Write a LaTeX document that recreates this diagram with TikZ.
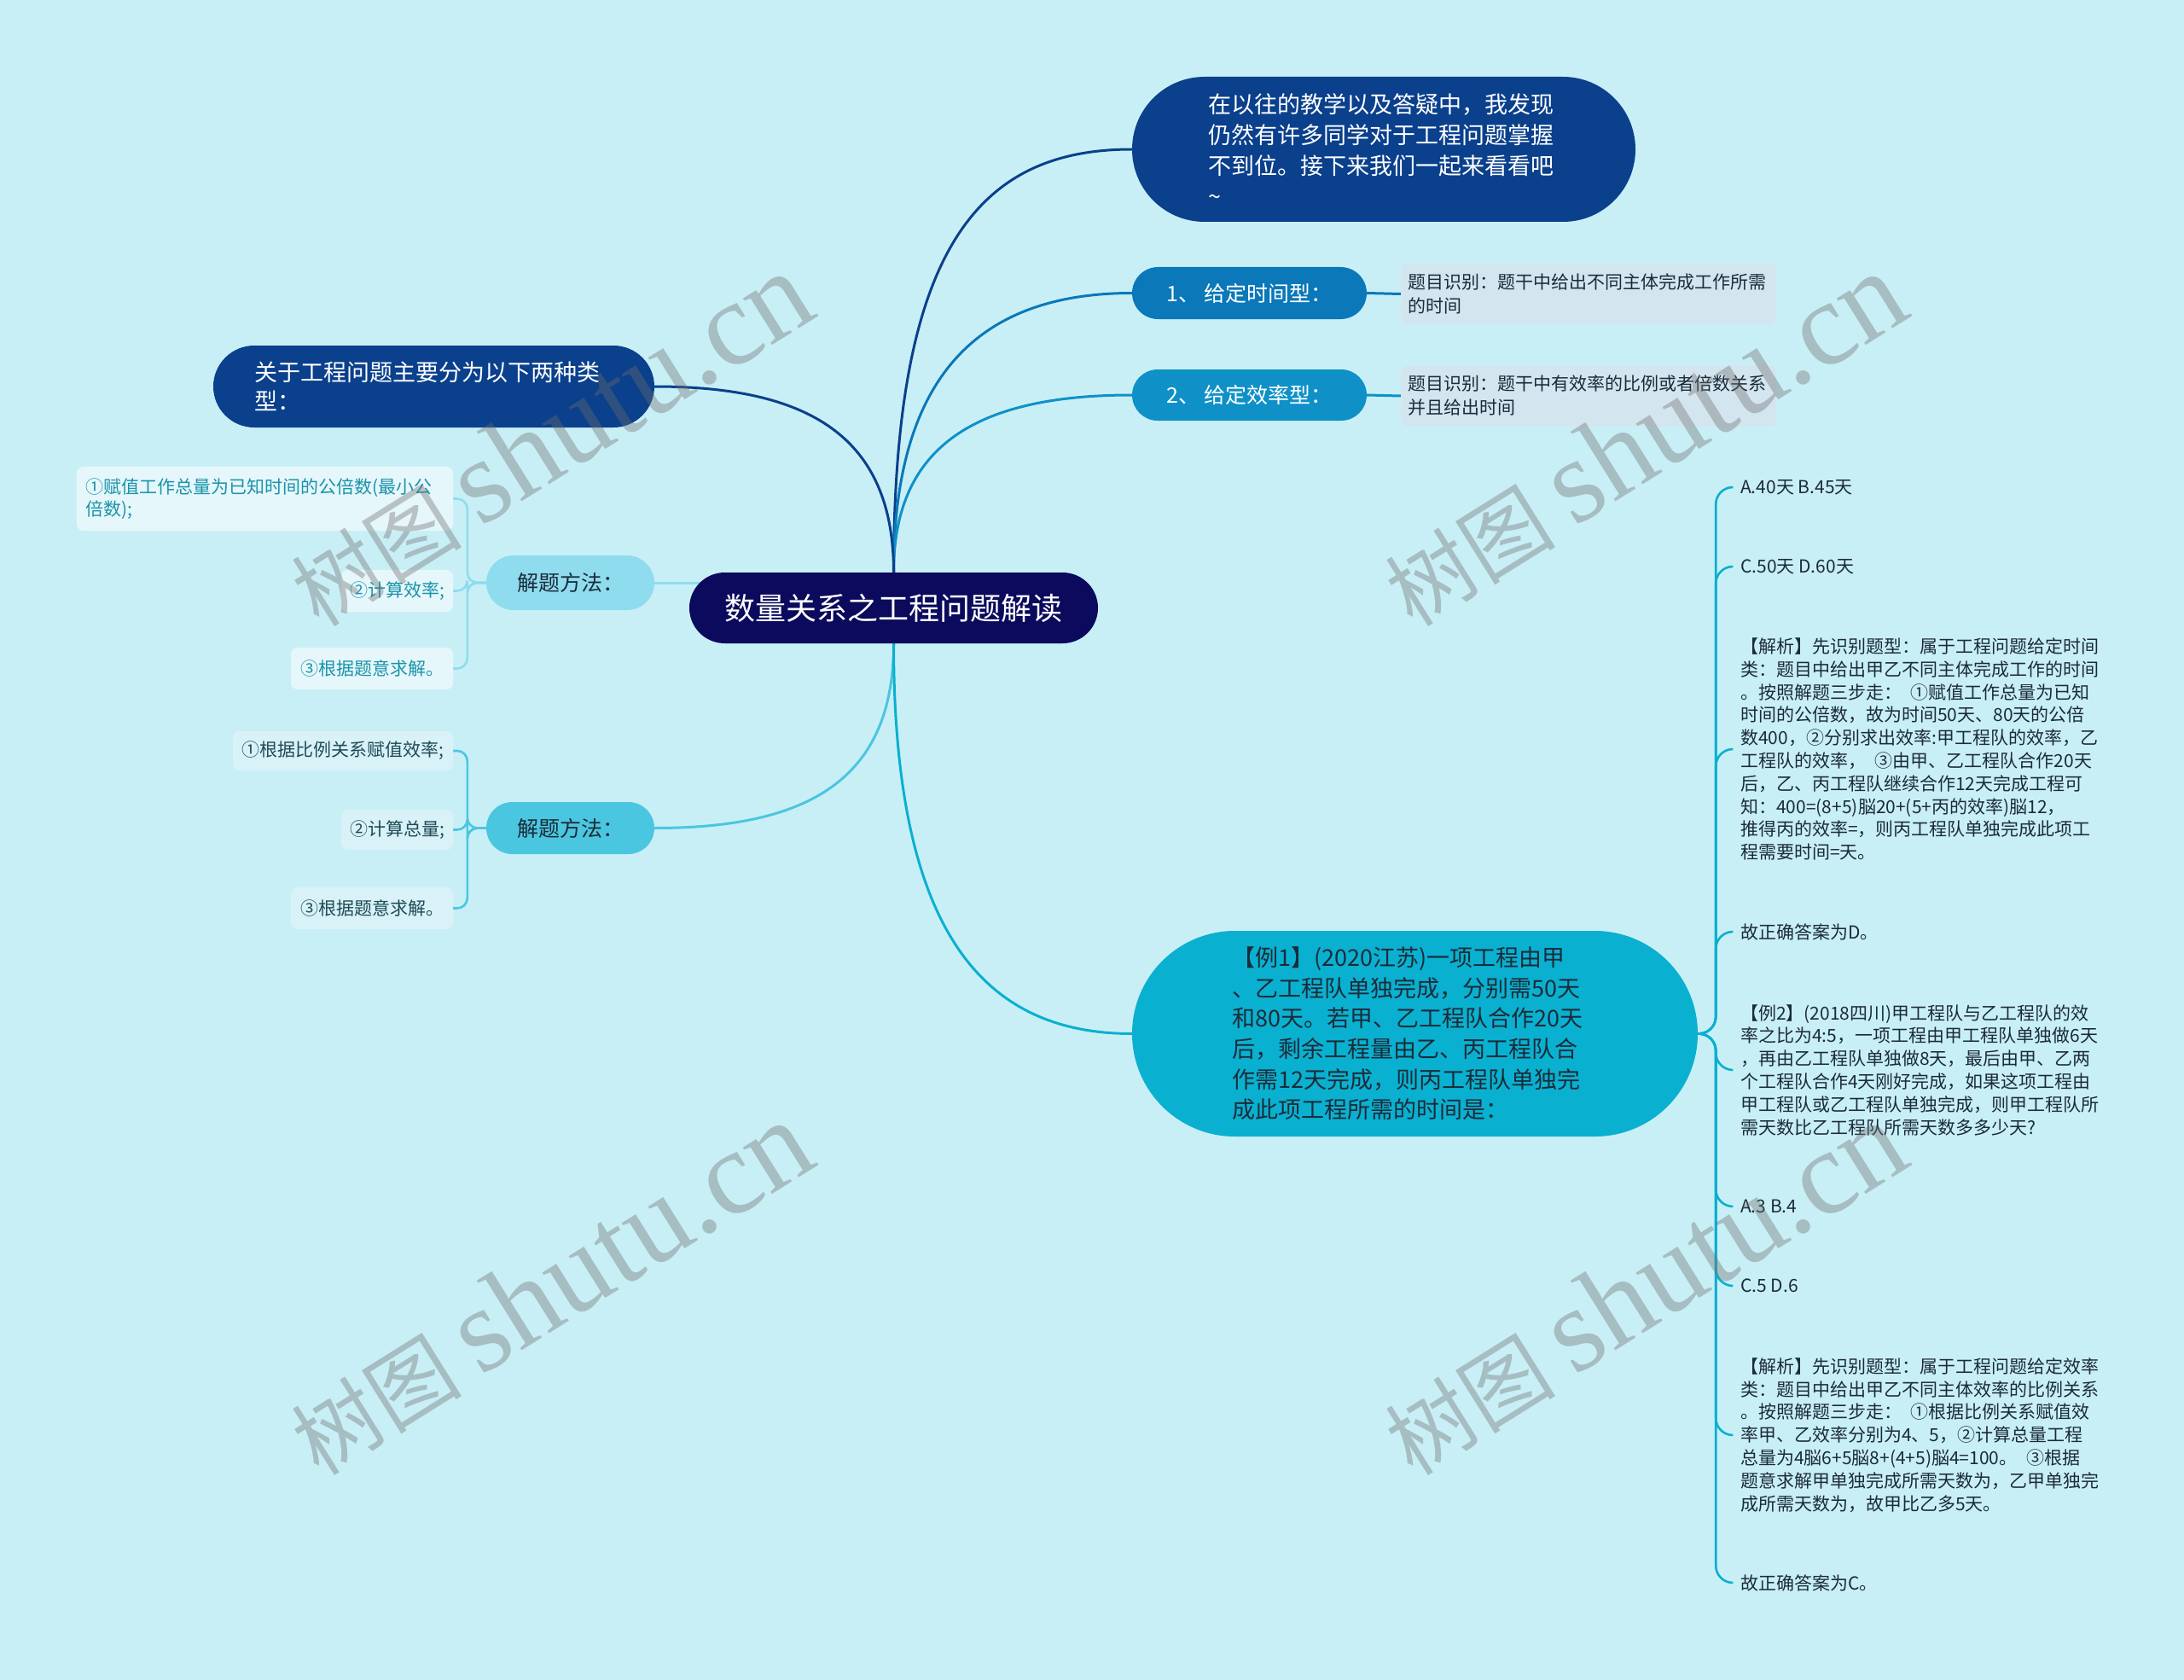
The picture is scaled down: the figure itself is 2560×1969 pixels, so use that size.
\documentclass[tikz,border=0pt]{standalone}
\usepackage{fontspec}
\setmainfont{Noto Sans CJK SC}
\newfontfamily\wmcjk{Noto Sans CJK SC}
\newfontfamily\wmlat{Liberation Serif}
\usetikzlibrary{backgrounds}
\definecolor{bgc}{HTML}{C9EFF6}
\definecolor{cNavy}{HTML}{0B0A5C}
\definecolor{cDark}{HTML}{0A408C}
\definecolor{cBlueA}{HTML}{0A78B9}
\definecolor{cBlueB}{HTML}{0F91C8}
\definecolor{cCyan}{HTML}{0AB0D0}
\definecolor{cLight}{HTML}{8EDCEE}
\definecolor{cMid}{HTML}{4BC6E0}
\definecolor{cGrayBox}{HTML}{D3E6EF}
\definecolor{cBoxA}{HTML}{E6F7FB}
\definecolor{cBoxB}{HTML}{D8F2F8}
\definecolor{cTxt}{HTML}{1B2B38}
\definecolor{cTeal}{HTML}{1A93AA}
\definecolor{cTealD}{HTML}{1F4A56}
\definecolor{cWm}{HTML}{6E6E6E}
\begin{document}
\begin{tikzpicture}[x=1pt,y=-1pt,
  pill/.style={shape=rectangle, inner sep=0pt, align=center},
  conn/.style={line width=3pt},
  brk/.style={line width=2.6pt, rounded corners=12pt},
  rbrk/.style={line width=2.6pt, rounded corners=20pt, cCyan},
  lbox/.style={shape=rectangle, inner sep=0pt, rounded corners=8pt},
  rcol/.style={anchor=west, inner xsep=10pt, inner ysep=0pt, align=left, text=cTxt, font=\fontsize{21}{26.8}\selectfont},
  wm/.style={rotate=32, opacity=0.38, text=cWm, inner sep=0pt}]
\useasboundingbox (0,0) rectangle (2560,1969);

% central node
\node[pill, fill=cNavy, minimum width=479pt, minimum height=83pt, rounded corners=41.5pt, text=white, font=\fontsize{36}{44}\selectfont] (c) at (1047.5,712.5) {数量关系之工程问题解读};

% right upper nodes
\node[pill, fill=cDark, minimum width=590pt, minimum height=170pt, rounded corners=85pt, text=white, font=\fontsize{27}{36}\selectfont, text width=412pt, align=left] (top) at (1622,175) {在以往的教学以及答疑中，我发现\\仍然有许多同学对于工程问题掌握\\不到位。接下来我们一起来看看吧\\\textasciitilde};

\node[pill, fill=cBlueA, minimum width=275pt, minimum height=61pt, rounded corners=30.5pt, text=white, font=\fontsize{25}{30}\selectfont] (t1) at (1464.5,343.5) {1、\ 给定时间型：};
\node[lbox, fill=cGrayBox, minimum width=440pt, minimum height=71pt, text=cTxt, font=\fontsize{21}{28}\selectfont, text width=424pt, align=left] (t1d) at (1862,344.5) {题目识别：题干中给出不同主体完成工作所需\\的时间};

\node[pill, fill=cBlueB, minimum width=275pt, minimum height=60pt, rounded corners=30pt, text=white, font=\fontsize{25}{30}\selectfont] (t2) at (1464.5,463) {2、\ 给定效率型：};
\node[lbox, fill=cGrayBox, minimum width=440pt, minimum height=72pt, text=cTxt, font=\fontsize{21}{28}\selectfont, text width=424pt, align=left] (t2d) at (1862,464) {题目识别：题干中有效率的比例或者倍数关系\\并且给出时间};

% left upper node
\node[pill, fill=cDark, minimum width=517pt, minimum height=96pt, rounded corners=48pt, text=white, font=\fontsize{27}{34}\selectfont, text width=420pt, align=left] (guan) at (508.5,453) {关于工程问题主要分为以下两种类\\型：};

% method 1
\node[pill, fill=cLight, minimum width=197pt, minimum height=64pt, rounded corners=32pt, text=cTxt, font=\fontsize{25}{30}\selectfont] (m1) at (668.5,683) {解题方法：};
\node[lbox, fill=cBoxA, minimum width=441pt, minimum height=75pt, text=cTeal, font=\fontsize{21}{26}\selectfont, text width=421pt, align=left] (a1) at (310.5,584.5) {①赋值工作总量为已知时间的公倍数(最小公\\倍数);};
\node[lbox, fill=cBoxA, minimum width=131pt, minimum height=49pt, text=cTeal, font=\fontsize{21}{26}\selectfont] (a2) at (465.5,692.5) {②计算效率;};
\node[lbox, fill=cBoxA, minimum width=190pt, minimum height=49pt, text=cTeal, font=\fontsize{21}{26}\selectfont] (a3) at (436,783.5) {③根据题意求解。};

% method 2
\node[pill, fill=cMid, minimum width=197pt, minimum height=61pt, rounded corners=30.5pt, text=cTxt, font=\fontsize{25}{30}\selectfont] (m2) at (668.5,970.5) {解题方法：};
\node[lbox, fill=cBoxB, minimum width=258pt, minimum height=46pt, text=cTealD, font=\fontsize{21}{26}\selectfont] (b1) at (402,880) {①根据比例关系赋值效率;};
\node[lbox, fill=cBoxB, minimum width=131pt, minimum height=47pt, text=cTealD, font=\fontsize{21}{26}\selectfont] (b2) at (465.5,972.5) {②计算总量;};
\node[lbox, fill=cBoxB, minimum width=190pt, minimum height=49pt, text=cTealD, font=\fontsize{21}{26}\selectfont] (b3) at (436,1064.5) {③根据题意求解。};

% example 1
\node[pill, fill=cCyan, minimum width=663pt, minimum height=241pt, rounded corners=120.5pt, text=cTxt, font=\fontsize{27}{35.6}\selectfont, text width=428pt, align=left] (ex1) at (1658.5,1211.5) {【例1】(2020江苏)一项工程由甲\\、乙工程队单独完成，分别需50天\\和80天。若甲、乙工程队合作20天\\后，剩余工程量由乙、丙工程队合\\作需12天完成，则丙工程队单独完\\成此项工程所需的时间是：};

% right column
\node[rcol] (r1) at (2030,571) {A.40天 B.45天};
\node[rcol] (r2) at (2030,664) {C.50天 D.60天};
\node[rcol] (r3) at (2030,878) {【解析】先识别题型：属于工程问题给定时间\\类：题目中给出甲乙不同主体完成工作的时间\\。按照解题三步走：\hspace{0.5em}①赋值工作总量为已知\\时间的公倍数，故为时间50天、80天的公倍\\数400，②分别求出效率:甲工程队的效率，乙\\工程队的效率，\hspace{0.5em}③由甲、乙工程队合作20天\\后，乙、丙工程队继续合作12天完成工程可\\知：400=(8+5)脳20+(5+丙的效率)脳12，\\推得丙的效率=，则丙工程队单独完成此项工\\程需要时间=天。};
\node[rcol] (r4) at (2030,1092) {故正确答案为D。};
\node[rcol] (r5) at (2030,1254) {【例2】(2018四川)甲工程队与乙工程队的效\\率之比为4:5，一项工程由甲工程队单独做6天\\，再由乙工程队单独做8天，最后由甲、乙两\\个工程队合作4天刚好完成，如果这项工程由\\甲工程队或乙工程队单独完成，则甲工程队所\\需天数比乙工程队所需天数多多少天?};
\node[rcol] (r6) at (2030,1414) {A.3 B.4};
\node[rcol] (r7) at (2030,1507) {C.5 D.6};
\node[rcol] (r8) at (2030,1682) {【解析】先识别题型：属于工程问题给定效率\\类：题目中给出甲乙不同主体效率的比例关系\\。按照解题三步走：\hspace{0.5em}①根据比例关系赋值效\\率甲、乙效率分别为4、5，②计算总量工程\\总量为4脳6+5脳8+(4+5)脳4=100。\hspace{0.5em}③根据\\题意求解甲单独完成所需天数为，乙甲单独完\\成所需天数为，故甲比乙多5天。};
\node[rcol] (r9) at (2030,1855) {故正确答案为C。};

\begin{scope}[on background layer]
\fill[bgc] (0,0) rectangle (2560,1969);
% root connectors
\draw[conn, cDark] (c.north) .. controls +(0,-380) and +(-180,0) .. (top.west);
\draw[conn, cBlueA] (c.north) .. controls +(0,-230) and +(-180,0) .. (t1.west);
\draw[conn, cBlueB] (c.north) .. controls +(0,-150) and +(-180,0) .. (t2.west);
\draw[conn, cDark] (c.north) .. controls +(0,-160) and +(180,0) .. (guan.east);
\draw[conn, cLight] (m1.east) -- (c.center |- m1.east);
\draw[conn, cMid] (c.south) .. controls +(0,160) and +(180,0) .. (m2.east);
\draw[conn, cCyan] (c.south) .. controls +(0,330) and +(-180,0) .. (ex1.west);
% second level
\draw[conn, cBlueA] (t1.east) -- (t1d.west);
\draw[conn, cBlueB] (t2.east) -- (t2d.west);
\draw[brk, cLight] (m1.west) -- ++(-22,0) |- (a1.east);
\draw[brk, cLight] (m1.west) -- ++(-22,0) |- (a2.east);
\draw[brk, cLight] (m1.west) -- ++(-22,0) |- (a3.east);
\draw[brk, cMid] (m2.west) -- ++(-22,0) |- (b1.east);
\draw[brk, cMid] (m2.west) -- ++(-22,0) |- (b2.east);
\draw[brk, cMid] (m2.west) -- ++(-22,0) |- (b3.east);
\foreach \r in {r1,r2,r3,r4,r5,r6,r7,r8,r9}
  \draw[rbrk] (ex1.east) -- ++(21,0) |- (\r.west);
\end{scope}

% watermarks
\foreach \x/\y/\n in {645/515/1, 645/1510/2, 1927/515/3, 1927/1510/4}
  \node[wm] (wm\n) at (\x,\y) {{\wmcjk\fontsize{100}{100}\selectfont 树图}\hspace{22pt}{\wmlat\fontsize{140}{140}\selectfont shutu.cn}};
\end{tikzpicture}
\end{document}
